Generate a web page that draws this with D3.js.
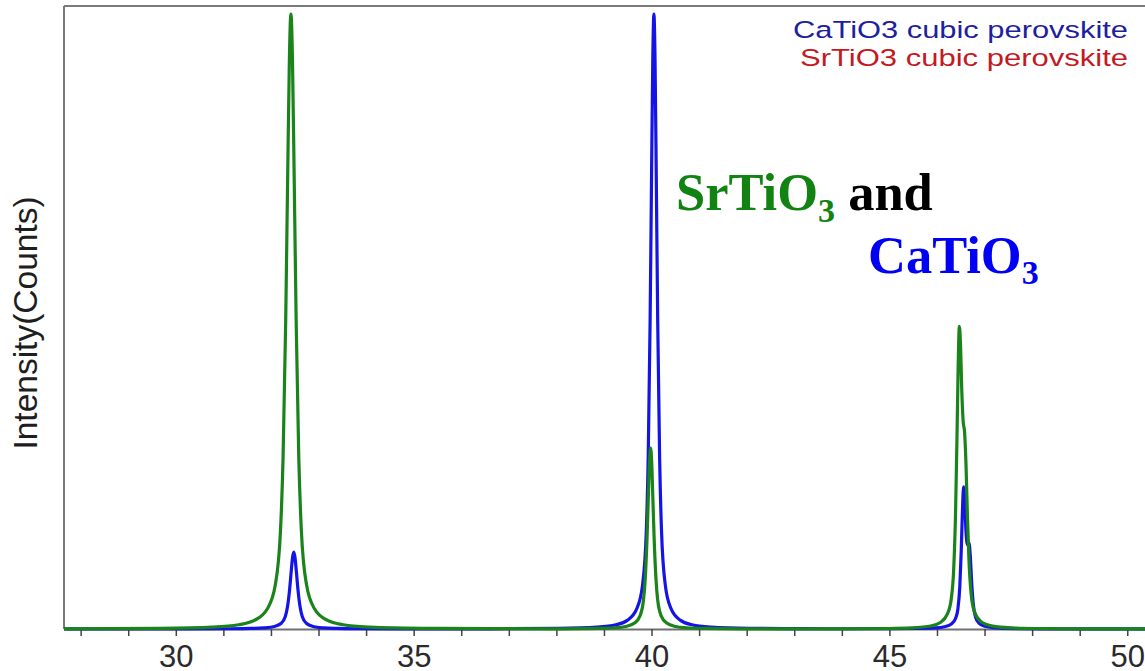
<!DOCTYPE html>
<html>
<head>
<meta charset="utf-8">
<script src="https://cdn.jsdelivr.net/npm/d3@7/dist/d3.min.js"></script>
<style>
  html, body { margin: 0; padding: 0; background: #ffffff; }
  svg { display: block; }
</style>
</head>
<body>
<script>
// XRD patterns, 2θ (degrees) against relative intensity
const srTwoTheta = [27.65, 29.67, 30.77, 31.32, 31.65, 31.925, 32.09, 32.20, 32.255, 32.31, 32.354, 32.387, 32.42,
  32.453, 32.486, 32.53, 32.585, 32.64, 32.75, 32.915, 33.19, 33.52, 34.07, 35.17, 36.6,
  38.105, 38.855, 39.23, 39.455, 39.643, 39.755, 39.83, 39.868, 39.905, 39.935, 39.958, 39.98,
  40.003, 40.025, 40.055, 40.093, 40.13, 40.205, 40.318, 40.505, 40.73, 41.105, 41.855, 43.0,
  43.97, 44.97, 45.47, 45.87, 46.07, 46.22, 46.30, 46.35, 46.39, 46.42, 46.445, 46.47,
  46.495, 46.52, 46.55, 46.58, 46.61, 46.64, 46.67, 46.72, 46.79, 46.92, 47.17, 47.57, 48.07, 49.07, 50.4];
const srCounts = [0.02, 0.11, 0.31, 0.69, 1.4, 3.3, 7.1, 15.9, 27.9, 50, 74.9, 92.4, 100,
  92.4, 74.9, 50, 27.9, 15.9, 7.1, 3.3, 1.4, 0.69, 0.31, 0.11, 0.06,
  0.03, 0.09, 0.20, 0.41, 0.97, 2.09, 4.67, 8.2, 14.7, 22.0, 27.2, 29.4,
  27.2, 22.0, 14.7, 8.2, 4.67, 2.09, 0.97, 0.41, 0.20, 0.09, 0.03, 0.03,
  0.03, 0.08, 0.18, 0.49, 1.05, 2.46, 4.89, 9.5, 18.7, 30.8, 42.5, 49.2,
  46.2, 39.1, 33.8, 32.0, 26.8, 18.5, 11.6, 5.57, 2.76, 1.23, 0.47, 0.18, 0.08, 0.03, 0.02];

const caTwoTheta = [27.65, 30.23, 31.13, 31.58, 31.85, 32.075, 32.21, 32.30, 32.345, 32.39, 32.426, 32.453, 32.48,
  32.507, 32.534, 32.57, 32.615, 32.66, 32.75, 32.885, 33.11, 33.38, 33.83, 34.73, 36.6,
  38.05, 38.85, 39.25, 39.49, 39.69, 39.81, 39.89, 39.93, 39.97, 40.002, 40.026, 40.05,
  40.074, 40.098, 40.13, 40.17, 40.21, 40.29, 40.41, 40.61, 40.85, 41.25, 42.05, 43.2,
  44.06, 45.06, 45.56, 45.96, 46.16, 46.31, 46.39, 46.44, 46.48, 46.51, 46.535, 46.56,
  46.585, 46.61, 46.64, 46.67, 46.70, 46.73, 46.76, 46.81, 46.88, 47.01, 47.26, 47.66, 48.16, 49.16, 50.4];
const caCounts = [0.005, 0.014, 0.039, 0.086, 0.175, 0.41, 0.89, 1.99, 3.49, 6.25, 9.36, 11.55, 12.5,
  11.55, 9.36, 6.25, 3.49, 1.99, 0.89, 0.41, 0.175, 0.086, 0.039, 0.014, 0.03,
  0.11, 0.31, 0.69, 1.4, 3.3, 7.1, 15.9, 27.9, 50, 74.9, 92.4, 100,
  92.4, 74.9, 50, 27.9, 15.9, 7.1, 3.3, 1.4, 0.69, 0.31, 0.11, 0.05,
  0.04, 0.05, 0.08, 0.18, 0.375, 0.86, 1.71, 3.26, 6.9, 12.7, 19.1, 23.1,
  20.5, 15.9, 13.7, 14.1, 11.9, 7.5, 4.3, 1.94, 0.97, 0.45, 0.17, 0.064, 0.03, 0.011, 0.005];

const xTicks = [28, 29, 30, 31, 32, 33, 34, 35, 36, 37, 38, 39, 40, 41, 42, 43, 44, 45, 46, 47, 48, 49, 50];
const xTickLabels = [30, 35, 40, 45, 50];
const legendLabels = ["CaTiO3 cubic perovskite", "SrTiO3 cubic perovskite"];
const legendColors = ["#1e1ea0", "#c41a1f"];

const W = 1145, H = 671;
const mLeft = 64, mTop = 6, mBottom = 629, plotRight = 1146.3;

const svg = d3.select("body").append("svg").attr("width", W).attr("height", H);

const x = d3.scaleLinear().domain([27.65, 50.4]).range([mLeft, plotRight]);
const y = d3.scaleLinear().domain([0, 101.3]).range([mBottom, mTop]);

// frame: top and left borders
svg.append("line").attr("x1", mLeft).attr("x2", W).attr("y1", mTop).attr("y2", mTop)
  .attr("stroke", "#7a7a7a").attr("stroke-width", 2);
svg.append("line").attr("x1", mLeft).attr("x2", mLeft).attr("y1", mTop).attr("y2", mBottom)
  .attr("stroke", "#7a7a7a").attr("stroke-width", 2);

// x axis
const xAxis = d3.axisBottom(x)
  .tickValues(xTicks)
  .tickSize(7)
  .tickSizeOuter(0)
  .tickFormat(d => xTickLabels.includes(d) ? String(d) : "");

const gx = svg.append("g").attr("transform", `translate(0,${mBottom})`).call(xAxis);
gx.select(".domain").attr("stroke", "#707070").attr("stroke-width", 2);
gx.selectAll(".tick line").attr("stroke", "#444").attr("stroke-width", 1.5);
gx.selectAll(".tick text")
  .attr("y", 38).attr("dy", "0")
  .attr("fill", "#2a2a2a")
  .style("font-family", "'Liberation Sans', Arial, sans-serif")
  .style("font-size", "31px");

// y axis title
svg.append("text")
  .attr("transform", "translate(37,323) rotate(-90)")
  .attr("text-anchor", "middle")
  .attr("fill", "#1e1e1e")
  .style("font-family", "'Liberation Sans', Arial, sans-serif")
  .style("font-size", "33.5px")
  .text("Intensity(Counts)");

// patterns
const line = d3.line()
  .x(d => x(d[0]))
  .y(d => y(d[1]))
  .curve(d3.curveMonotoneX);

const caData = d3.zip(caTwoTheta, caCounts);
const srData = d3.zip(srTwoTheta, srCounts);

svg.append("path").datum(caData)
  .attr("d", line).attr("fill", "none")
  .attr("stroke", "#1414e6").attr("stroke-width", 3.2)
  .attr("stroke-linejoin", "round");

svg.append("path").datum(srData)
  .attr("d", line).attr("fill", "none")
  .attr("stroke", "#1a841a").attr("stroke-width", 3.2)
  .attr("stroke-linejoin", "round");

// phase legend
const legendLengths = [335, 328];
svg.selectAll(".legend").data(legendLabels).enter().append("text")
  .attr("class", "legend")
  .attr("x", 1128)
  .attr("y", (d, i) => 38 + i * 28)
  .attr("text-anchor", "end")
  .attr("fill", (d, i) => legendColors[i])
  .attr("textLength", (d, i) => legendLengths[i])
  .attr("lengthAdjust", "spacingAndGlyphs")
  .style("font-family", "'Liberation Sans', Arial, sans-serif")
  .style("font-size", "24.5px")
  .text(d => d);

// compound annotation
const serif = "'Liberation Serif', 'Times New Roman', serif";
const t1 = svg.append("text")
  .attr("x", 676).attr("y", 210)
  .style("font-family", serif).style("font-weight", "bold").style("font-size", "52.5px");
t1.append("tspan").attr("fill", "#128212").text("SrTiO");
t1.append("tspan").attr("fill", "#128212").attr("dy", 12).style("font-size", "34px").text("3");
t1.append("tspan").attr("fill", "#000000").attr("dy", -12).text(" and");

const t2 = svg.append("text")
  .attr("x", 868).attr("y", 273)
  .style("font-family", serif).style("font-weight", "bold").style("font-size", "52.5px");
t2.append("tspan").attr("fill", "#0000f5").text("CaTiO");
t2.append("tspan").attr("fill", "#0000f5").attr("dy", 11).style("font-size", "34px").text("3");
</script>
</body>
</html>
